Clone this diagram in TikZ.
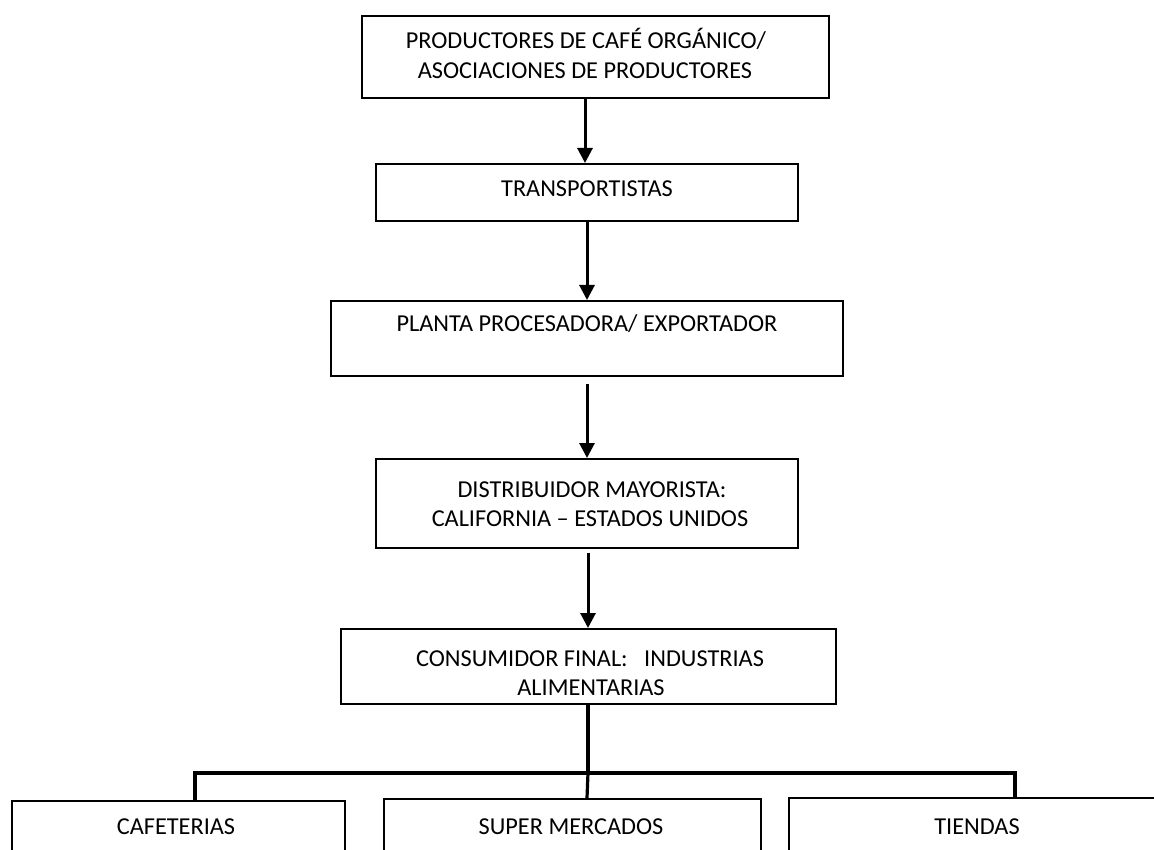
\documentclass[tikz,border=0pt]{standalone}
\usepackage{fontspec}
\setmainfont{Carlito}
\usetikzlibrary{arrows.meta}
\begin{document}
\begin{tikzpicture}[x=1pt,y=-1pt,
  box/.style={draw=black, line width=1.6pt, rectangle, inner sep=0pt, anchor=north west},
  lbl/.style={anchor=base, inner sep=0pt, font=\fontsize{24.3}{30}\selectfont},
  flow/.style={line width=3pt, -{Triangle[width=15pt,length=15pt]}},
  link/.style={line width=3.2pt}]
\useasboundingbox (0,0) rectangle (1154,850);
\clip (0,0) rectangle (1154,850);

% boxes of the chain
\node[box, minimum width=467pt, minimum height=82pt] (b1) at (361,15) {};
\node[box, minimum width=422pt, minimum height=57pt] (b2) at (375,163) {};
\node[box, minimum width=512pt, minimum height=75pt] (b3) at (330,300) {};
\node[box, minimum width=422pt, minimum height=89pt] (b4) at (375,458) {};
\node[box, minimum width=495pt, minimum height=75pt] (b5) at (340,628) {};
% outlets
\node[box, minimum width=333pt, minimum height=90pt] (c1) at (11,800) {};
\node[box, minimum width=377pt, minimum height=92pt] (c2) at (383,798) {};
\node[box, minimum width=378pt, minimum height=93pt] (c3) at (788,797) {};

% labels
\node[lbl] (t1a) at (586,49) {PRODUCTORES DE CAFÉ ORGÁNICO/};
\node[lbl] (t1b) at (585,79) {ASOCIACIONES DE PRODUCTORES};
\node[lbl] (t2) at (587,197) {TRANSPORTISTAS};
\node[lbl] (t3) at (587,332) {PLANTA PROCESADORA/ EXPORTADOR};
\node[lbl] (t4a) at (592,497) {DISTRIBUIDOR MAYORISTA:};
\node[lbl] (t4b) at (590,526) {CALIFORNIA – ESTADOS UNIDOS};
\node[lbl] (t5a) at (590,666) {CONSUMIDOR FINAL:\ \ \ INDUSTRIAS};
\node[lbl] (t5b) at (591,695) {ALIMENTARIAS};
\node[lbl] (u1) at (176,834) {CAFETERIAS};
\node[lbl] (u2) at (571,834) {SUPER MERCADOS};
\node[lbl] (u3) at (977,834) {TIENDAS};

% arrow axes
\coordinate (a1) at (585,0);
\coordinate (a2) at (587,0);
\coordinate (a4) at (588,0);
\coordinate (j) at (588,773);
\coordinate (d1) at (195,0);
\coordinate (d3) at (1015,0);

\draw[flow] (b1.south -| a1) -- (b2.north -| a1);
\draw[flow] (b2.south -| a2) -- (b3.north -| a2);
\draw[flow, shorten <=7pt] (b3.south -| a2) -- (b4.north -| a2);
\draw[flow, shorten <=4pt] (b4.south -| a4) -- (b5.north -| a4);

% branching to the outlets
\draw[link] (b5.south -| j) -- (j);
\draw[link] (c1.north -| d1) |- (j) -| (c3.north -| d3);
\draw[link] (j) -- (c2.north -| a2);
\end{tikzpicture}
\end{document}
